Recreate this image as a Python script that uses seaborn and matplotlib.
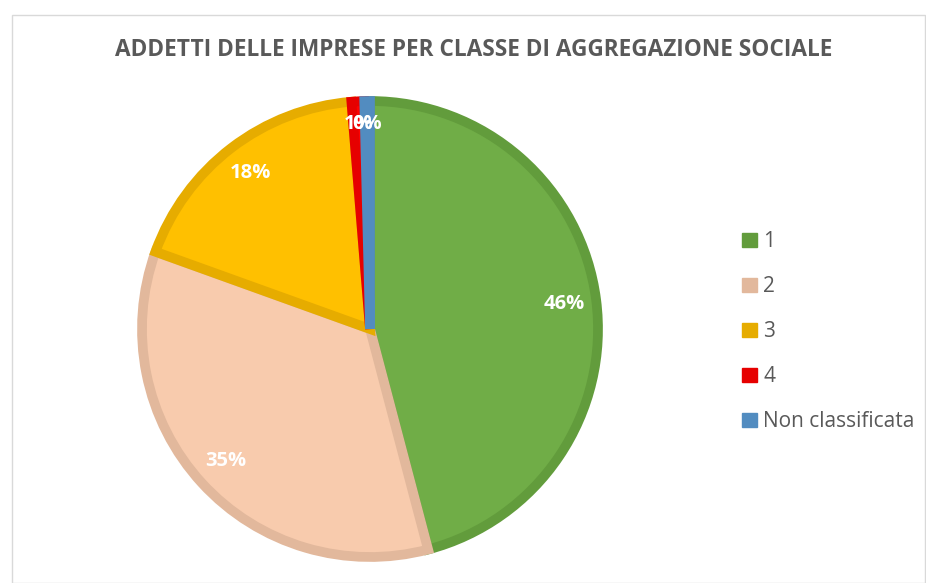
import matplotlib
matplotlib.use("Agg")
import matplotlib.pyplot as plt
import seaborn as sns
import numpy as np
from matplotlib.patches import Patch, Rectangle

categories = ["1", "2", "3", "4", "Non classificata"]
values = [45.9, 34.6, 18.2, 0.9, 0.4]
pct_labels = ["46%", "35%", "18%", "1%", "0%"]
fill_colors = ["#70AD47", "#F8CBAD", "#FFC000", "#FF0000", "#5B9BD5"]
edge_colors = ["#629C3C", "#E2B89C", "#E6AC00", "#E60000", "#528CC0"]
title = "ADDETTI DELLE IMPRESE PER CLASSE DI AGGREGAZIONE SOCIALE"

sns.set_theme(style="white")
plt.rcParams["font.family"] = ["Open Sans", "DejaVu Sans"]

W, H = 926, 583
fig = plt.figure(figsize=(W / 100, H / 100), dpi=100)

# outer frame
fig.patches.append(Rectangle((12 / W, 0), (925 - 12) / W, (H - 15) / H,
                             transform=fig.transFigure, fill=False,
                             edgecolor="#D9D9D9", linewidth=1.0))

cx, cy, R, half = 370, 329, 228, 250
ax = fig.add_axes([(cx - half) / W, (H - cy - half) / H, 2 * half / W, 2 * half / H])
wedges, _ = ax.pie(values, colors=fill_colors, startangle=90, counterclock=False,
                   radius=1.0, wedgeprops=dict(linewidth=7))
for w, ec in zip(wedges, edge_colors):
    w.set_edgecolor(ec)
    w.set_joinstyle("miter")

cum = np.cumsum([0] + values)
tot = sum(values)
for i, lab in enumerate(pct_labels):
    mid = (cum[i] + cum[i + 1]) / 2 / tot
    ang = np.deg2rad(90 - 360 * mid)
    r = 0.86 if i < 3 else 0.9
    ax.text(r * np.cos(ang), r * np.sin(ang), lab, ha="center", va="center",
            color="white", fontsize=14.5, fontweight="bold")

lim = half / R
ax.set_xlim(-lim, lim)
ax.set_ylim(-lim, lim)
ax.set_aspect("equal")
ax.axis("off")

fig.text(474 / W, 1 - 50 / H, title, ha="center", va="center",
         fontsize=16.3, fontweight="bold", color="#595959")

handles = [Patch(facecolor=ec, edgecolor=ec) for ec in edge_colors]
leg = fig.legend(handles, categories, loc="upper left",
                 bbox_to_anchor=(732 / W, 1 - 221 / H), frameon=False,
                 fontsize=15, handlelength=0.7, handleheight=0.7,
                 handletextpad=0.3, labelspacing=1.15, borderpad=0)
for t in leg.get_texts():
    t.set_color("#595959")

fig.savefig("out.png", dpi=100, facecolor="white")
